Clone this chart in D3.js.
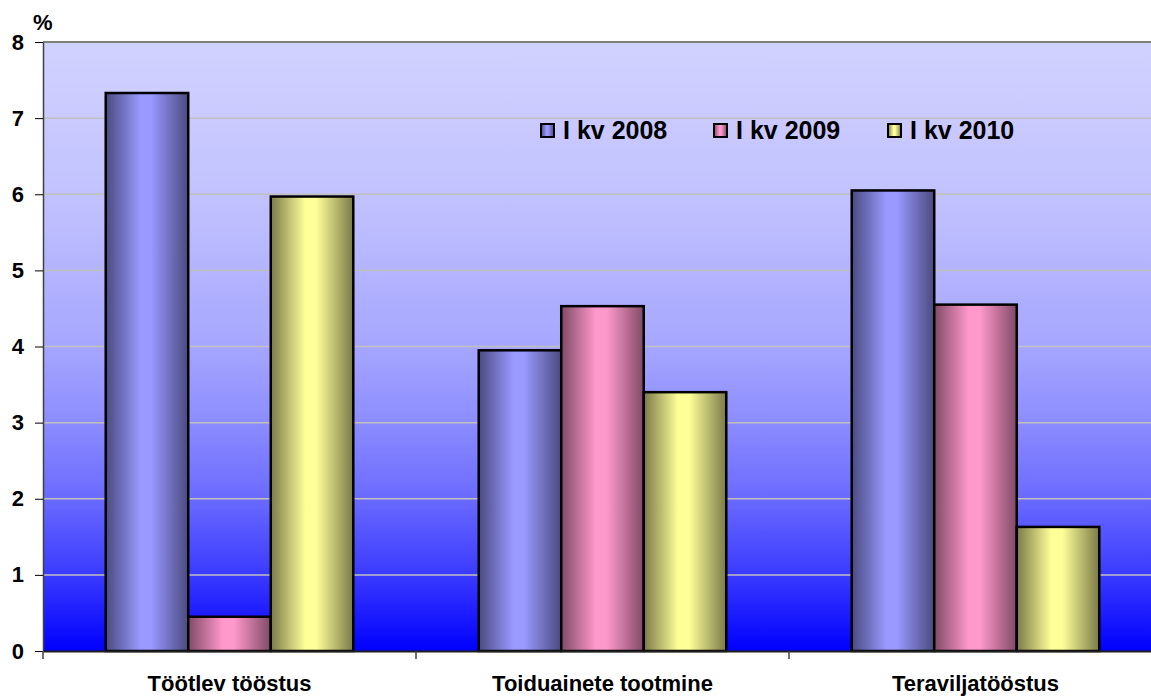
<!DOCTYPE html>
<html>
<head>
<meta charset="utf-8">
<script src="https://cdn.jsdelivr.net/npm/d3@7"></script>
<style>
  body { margin: 0; background: #fff; overflow: hidden; }
  svg { display: block; font-family: Arial, "Liberation Sans", sans-serif; }
</style>
</head>
<body>
<svg id="chart" width="1151" height="696"></svg>
<script>
const categories = ["Töötlev tööstus", "Toiduainete tootmine", "Teraviljatööstus"];
const seriesNames = ["I kv 2008", "I kv 2009", "I kv 2010"];
const values2008 = [7.33, 3.95, 6.05];
const values2009 = [0.45, 4.53, 4.55];
const values2010 = [5.97, 3.40, 1.63];
const yTicks = [0, 1, 2, 3, 4, 5, 6, 7, 8];

const seriesValues = [values2008, values2009, values2010];
// light / dark colour for each series, used for the cylinder shading
const seriesColors = [
  { light: "#9999ff", dark: "#4a4a80" },
  { light: "#ff99cc", dark: "#804a66" },
  { light: "#ffff99", dark: "#7a7a48" }
];

const svg = d3.select("#chart");
const m = { left: 43, top: 42, right: 1162, bottom: 651 };

const x0 = d3.scaleBand().domain(categories).range([m.left, m.right]).paddingInner(0).paddingOuter(0);
const x1 = d3.scaleBand().domain(seriesNames).range([0, x0.bandwidth()]).paddingInner(0).paddingOuter(0.76);
const y = d3.scaleLinear().domain([0, 8]).range([m.bottom, m.top]);

const defs = svg.append("defs");

// background of the plot area
const bg = defs.append("linearGradient").attr("id", "bg")
  .attr("x1", 0).attr("y1", 0).attr("x2", 0).attr("y2", 1);
[[0, "#d2d2ff"], [0.25, "#c2c2ff"], [0.5, "#a6a6ff"], [0.625, "#8c8cff"],
 [0.75, "#6a6aff"], [0.875, "#3a3aff"], [1, "#0000ff"]].forEach(s =>
  bg.append("stop").attr("offset", s[0]).attr("stop-color", s[1]));

seriesColors.forEach((c, i) => {
  const g = defs.append("linearGradient").attr("id", "bar" + i)
    .attr("x1", 0).attr("y1", 0).attr("x2", 1).attr("y2", 0);
  g.append("stop").attr("offset", 0).attr("stop-color", c.dark);
  g.append("stop").attr("offset", 0.42).attr("stop-color", c.light);
  g.append("stop").attr("offset", 0.55).attr("stop-color", c.light);
  g.append("stop").attr("offset", 1).attr("stop-color", c.dark);
});

svg.append("rect")
  .attr("x", m.left).attr("y", m.top)
  .attr("width", m.right - m.left).attr("height", m.bottom - m.top)
  .attr("fill", "url(#bg)");

// gridlines
svg.append("g").selectAll("line").data(yTicks.slice(1, -1)).join("line")
  .attr("x1", m.left).attr("x2", m.right)
  .attr("y1", d => y(d)).attr("y2", d => y(d))
  .attr("stroke", "#c0c0c0").attr("stroke-width", 1.5);

// top border
svg.append("line")
  .attr("x1", m.left).attr("x2", m.right)
  .attr("y1", y(8)).attr("y2", y(8))
  .attr("stroke", "#808080").attr("stroke-width", 2);

// bars
const groups = svg.append("g").selectAll("g").data(categories).join("g")
  .attr("transform", d => `translate(${x0(d)},0)`);

groups.selectAll("rect")
  .data((d, ci) => seriesNames.map((s, si) => ({ s, si, v: seriesValues[si][ci] })))
  .join("rect")
  .attr("x", d => x1(d.s))
  .attr("y", d => y(d.v))
  .attr("width", x1.bandwidth())
  .attr("height", d => y(0) - y(d.v))
  .attr("fill", d => `url(#bar${d.si})`)
  .attr("stroke", "#000").attr("stroke-width", 2.5);

// y axis
const yAxis = svg.append("g")
  .attr("transform", `translate(${m.left},0)`)
  .call(d3.axisLeft(y).tickValues(yTicks).tickSize(8).tickSizeOuter(0).tickPadding(11));
yAxis.select(".domain").attr("stroke", "#404040").attr("stroke-width", 1.5);
yAxis.selectAll(".tick line").attr("stroke", "#000");
yAxis.selectAll("text").attr("font-size", 22).attr("font-weight", "bold").attr("fill", "#000")
  .attr("font-family", "Arial, 'Liberation Sans', sans-serif");

// x axis
const xAxis = svg.append("g")
  .attr("transform", `translate(0,${m.bottom})`)
  .call(d3.axisBottom(x0).tickSize(0).tickSizeOuter(0).tickPadding(24));
xAxis.select(".domain").attr("stroke", "#202020").attr("stroke-width", 2);
xAxis.selectAll("text").attr("font-size", 22).attr("font-weight", "bold").attr("fill", "#000")
  .attr("font-family", "Arial, 'Liberation Sans', sans-serif");

// category separators
svg.append("g").selectAll("line").data(categories.map(c => x0(c))).join("line")
  .attr("x1", d => d).attr("x2", d => d)
  .attr("y1", m.bottom).attr("y2", m.bottom + 8)
  .attr("stroke", "#404040").attr("stroke-width", 1.5);

// unit label
svg.append("text").attr("x", 33).attr("y", 30)
  .attr("font-size", 22).attr("font-weight", "bold").text("%");

// legend
const legendX = [541, 714, 888];
const legend = svg.append("g").selectAll("g").data(seriesNames).join("g")
  .attr("transform", (d, i) => `translate(${legendX[i]},124)`);
legend.append("rect")
  .attr("width", 13).attr("height", 13)
  .attr("fill", (d, i) => `url(#bar${i})`)
  .attr("stroke", "#000").attr("stroke-width", 2);
legend.append("text")
  .attr("x", 22).attr("y", 15)
  .attr("font-size", 25).attr("font-weight", "bold")
  .text(d => d);
</script>
</body>
</html>
